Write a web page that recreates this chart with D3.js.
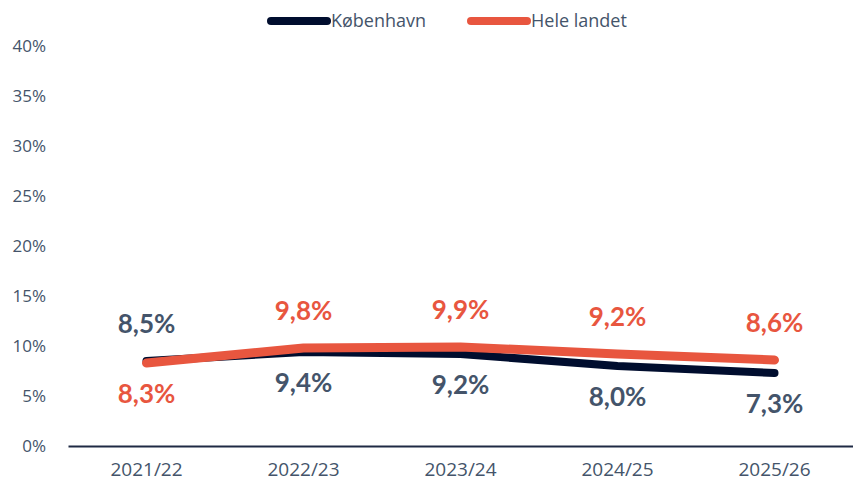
<!DOCTYPE html>
<html>
<head>
<meta charset="utf-8">
<script src="https://cdn.jsdelivr.net/npm/d3@7"></script>
<style>
  body { margin: 0; background: #fff; }
  svg text { font-family: "Open Sans", sans-serif; fill: #44546a; }
  .y_label { font-size: 17px; }
  .x_label { font-size: 19px; }
  .legend_label { font-size: 18px; }
  .value_label { font-family: Lato, sans-serif; font-weight: 700; font-size: 26px; }
</style>
</head>
<body>
<svg id="chart"></svg>
<script>
let years = ["2021/22", "2022/23", "2023/24", "2024/25", "2025/26"],
  kbh = [8.5, 9.4, 9.2, 8.0, 7.3],
  hele = [8.3, 9.8, 9.9, 9.2, 8.6],
  y_ticks = [0, 5, 10, 15, 20, 25, 30, 35, 40],
  series_names = ["København", "Hele landet"];

let width = 853,
  height = 482,
  margins = {left: 68, right: 0, top: 46, bottom: 36};

let svg = d3.select("#chart").attr("width", width).attr("height", height);

let x = d3.scaleBand()
  .domain(years)
  .range([margins.left, width - margins.right]);

let y = d3.scaleLinear()
  .domain([0, 40])
  .range([height - margins.bottom, margins.top]);

let series = [
  {name: series_names[0], values: kbh, color: "#000d2e", label_color: "#44546a", stroke: 8},
  {name: series_names[1], values: hele, color: "#e8563f", label_color: "#e8563f", stroke: 9}
];

// y tick labels, no axis line
svg.append("g")
  .selectAll("text")
  .data(y_ticks).enter()
  .append("text")
  .attr("class", "y_label")
  .attr("x", 46)
  .attr("y", d => y(d))
  .attr("dy", "0.35em")
  .attr("text-anchor", "end")
  .text(d => d + "%");

// x axis
let x_axis = svg.append("g")
  .attr("transform", `translate(0, ${y(0)})`)
  .call(d3.axisBottom(x).tickSize(0).tickPadding(17));
x_axis.select(".domain").attr("stroke", "#1f2a44").attr("stroke-width", 2);
x_axis.selectAll("text")
  .attr("class", "x_label")
  .attr("fill", null)
  .attr("font-size", null)
  .attr("font-family", null);
x_axis.attr("font-size", null).attr("font-family", null);

let line = d3.line()
  .x((d, i) => x(years[i]) + x.bandwidth() / 2)
  .y(d => y(d));

svg.append("g")
  .selectAll("path")
  .data(series).enter()
  .append("path")
  .attr("d", d => line(d.values))
  .attr("fill", "none")
  .attr("stroke", d => d.color)
  .attr("stroke-width", d => d.stroke)
  .attr("stroke-linecap", "round")
  .attr("stroke-linejoin", "round");

// value labels: higher series above, lower series below
series.forEach((s, si) => {
  let other = series[1 - si].values;
  svg.append("g")
    .selectAll("text")
    .data(s.values).enter()
    .append("text")
    .attr("class", "value_label")
    .style("fill", s.label_color)
    .attr("text-anchor", "middle")
    .attr("x", (d, i) => x(years[i]) + x.bandwidth() / 2)
    .attr("y", (d, i) => d >= other[i] ? y(d) - 28 : y(d) + 40)
    .text(d => d.toFixed(1).replace(".", ",") + "%");
});

// legend
let legend = svg.append("g")
  .selectAll("g")
  .data(series).enter()
  .append("g")
  .attr("transform", (d, i) => `translate(${[271, 471][i]}, 21)`);

legend.append("line")
  .attr("x1", 0).attr("x2", 56)
  .attr("y1", 0).attr("y2", 0)
  .attr("stroke", d => d.color)
  .attr("stroke-width", 8)
  .attr("stroke-linecap", "round");

legend.append("text")
  .attr("class", "legend_label")
  .attr("x", 60)
  .attr("dy", "0.35em")
  .text(d => d.name);
</script>
</body>
</html>
